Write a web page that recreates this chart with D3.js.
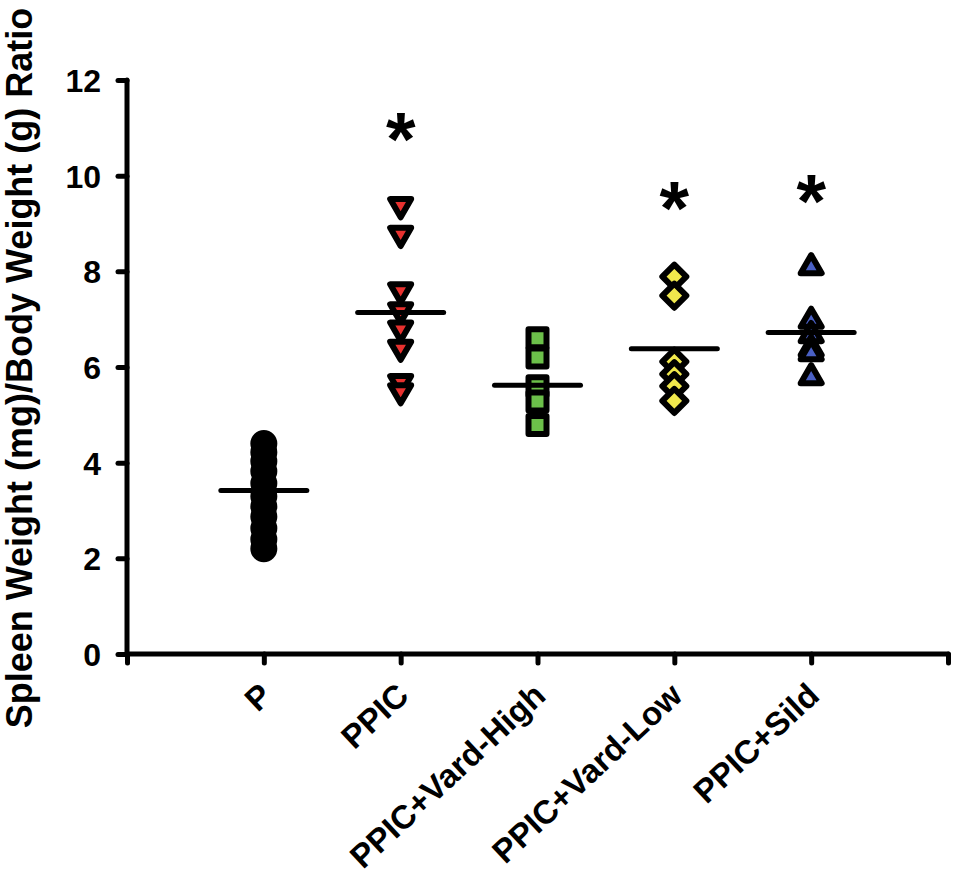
<!DOCTYPE html>
<html lang="en">
<head>
    <meta charset="UTF-8"/>
    <title>Spleen Weight / Body Weight Ratio</title>
    <script src="https://d3js.org/d3.v7.min.js"></script>
    <style>
        body, html {
            margin: 0;
            padding: 0;
            background: #fff;
            overflow: hidden;
        }
        svg text {
            font-family: Arial, "Liberation Sans", sans-serif;
            font-weight: bold;
            fill: #000;
        }
    </style>
</head>
<body>
<svg class="chart" width="957" height="879"></svg>
<script>
    // groups and their x positions on the axis
    const groups = ["P", "PPIC", "PPIC+Vard-High", "PPIC+Vard-Low", "PPIC+Sild"];
    const groupPos = [1, 2, 3, 4, 5];

    // individual animal values
    const valuesP = [4.40, 4.22, 4.03, 3.82, 3.57, 3.30, 3.08, 2.87, 2.63, 2.40, 2.20];
    const valuesPPIC = [9.32, 8.72, 7.54, 7.12, 6.74, 6.34, 5.62, 5.43];
    const valuesVardHigh = [6.60, 6.20, 5.60, 5.28, 4.79];
    const valuesVardLow = [7.89, 7.49, 6.11, 5.85, 5.60, 5.29];
    const valuesSild = [8.15, 7.03, 6.73, 6.44, 6.35, 5.85];

    // group means (horizontal bars)
    const means = [3.42, 7.14, 5.62, 6.38, 6.72];

    // significance stars: group index and height
    const starGroups = [1, 3, 4];
    const starValues = [10.99, 9.56, 9.70];

    const yTicks = [0, 2, 4, 6, 8, 10, 12];
    const xTicks = [0, 1, 2, 3, 4, 5, 6];

    const svg = d3.select(".chart");

    const x = d3.scaleLinear().domain([0, 6]).range([127, 948]);
    const y = d3.scaleLinear().domain([0, 12]).range([654, 80]);

    const lineW = 5;

    // y axis
    const yAxis = svg.append("g")
        .attr("transform", `translate(${x(0)},0)`)
        .call(d3.axisLeft(y).tickValues(yTicks).tickSize(9).tickPadding(17).tickFormat(d3.format("d")));
    yAxis.select(".domain").remove();
    yAxis.append("line")
        .attr("y1", y(0)).attr("y2", y(12))
        .attr("stroke", "#000").attr("stroke-width", lineW).attr("stroke-linecap", "round");
    yAxis.selectAll(".tick line").attr("stroke-width", lineW).attr("stroke-linecap", "round");
    yAxis.selectAll(".tick text").attr("font-size", 32).attr("dy", "0.36em");

    // x axis
    const xAxis = svg.append("g")
        .attr("transform", `translate(0,${y(0)})`)
        .call(d3.axisBottom(x).tickValues(xTicks).tickSize(9).tickFormat(""));
    xAxis.select(".domain").remove();
    xAxis.append("line")
        .attr("x1", x(0)).attr("x2", x(6))
        .attr("stroke", "#000").attr("stroke-width", lineW).attr("stroke-linecap", "round");
    xAxis.selectAll(".tick line").attr("stroke-width", lineW).attr("stroke-linecap", "round");

    // rotated group labels
    svg.append("g").selectAll("text")
        .data(groups)
        .join("text")
        .attr("font-size", 33)
        .attr("text-anchor", "end")
        .attr("transform", (d, i) => `translate(${x(groupPos[i]) + 10},698) rotate(-43)`)
        .text(d => d);

    // y axis title
    svg.append("text")
        .attr("font-size", 36)
        .attr("text-anchor", "middle")
        .attr("transform", "translate(32,368) rotate(-90)")
        .text("Spleen Weight (mg)/Body Weight (g) Ratio");

    const sym = d3.symbol();
    const triSize = (Math.sqrt(3) / 4) * 21 * 21;
    const triOffset = 21 * Math.sqrt(3) / 2 / 6;

    // P - black circles
    svg.append("g").selectAll("circle")
        .data(valuesP)
        .join("circle")
        .attr("cx", x(groupPos[0]))
        .attr("cy", d => y(d))
        .attr("r", 11)
        .attr("fill", "#000")
        .attr("stroke", "#000")
        .attr("stroke-width", 5);

    // PPIC - red down triangles
    svg.append("g").selectAll("path")
        .data(valuesPPIC)
        .join("path")
        .attr("d", sym.type(d3.symbolTriangle).size(triSize)())
        .attr("transform", d => `translate(${x(groupPos[1])},${y(d) - triOffset}) rotate(180)`)
        .attr("fill", "#e8312f")
        .attr("stroke", "#000")
        .attr("stroke-width", 6)
        .attr("stroke-linejoin", "round");

    // PPIC+Vard-High - green squares
    svg.append("g").selectAll("rect")
        .data(valuesVardHigh)
        .join("rect")
        .attr("x", x(groupPos[2]) - 9)
        .attr("y", d => y(d) - 9)
        .attr("width", 18)
        .attr("height", 18)
        .attr("fill", "#6cc04a")
        .attr("stroke", "#000")
        .attr("stroke-width", 6)
        .attr("stroke-linejoin", "round");

    // PPIC+Vard-Low - yellow diamonds
    const diamond = "M0,-12L12,0L0,12L-12,0Z";
    svg.append("g").selectAll("path")
        .data(valuesVardLow)
        .join("path")
        .attr("d", diamond)
        .attr("transform", d => `translate(${x(groupPos[3])},${y(d)})`)
        .attr("fill", "#f0e84c")
        .attr("stroke", "#000")
        .attr("stroke-width", 6)
        .attr("stroke-linejoin", "round");

    // PPIC+Sild - blue up triangles
    svg.append("g").selectAll("path")
        .data(valuesSild)
        .join("path")
        .attr("d", sym.type(d3.symbolTriangle).size(triSize)())
        .attr("transform", d => `translate(${x(groupPos[4])},${y(d) + triOffset})`)
        .attr("fill", "#4a60c4")
        .attr("stroke", "#000")
        .attr("stroke-width", 6)
        .attr("stroke-linejoin", "round");

    // mean bars
    svg.append("g").selectAll("line")
        .data(means)
        .join("line")
        .attr("x1", (d, i) => x(groupPos[i]) - 43)
        .attr("x2", (d, i) => x(groupPos[i]) + 43)
        .attr("y1", d => y(d))
        .attr("y2", d => y(d))
        .attr("stroke", "#000")
        .attr("stroke-width", lineW)
        .attr("stroke-linecap", "round");

    // significance stars
    svg.append("g").selectAll("text")
        .data(starValues)
        .join("text")
        .attr("font-size", 76)
        .attr("text-anchor", "middle")
        .attr("x", (d, i) => x(groupPos[starGroups[i]]))
        .attr("y", d => y(d) + 37)
        .text("*");
</script>
</body>
</html>
